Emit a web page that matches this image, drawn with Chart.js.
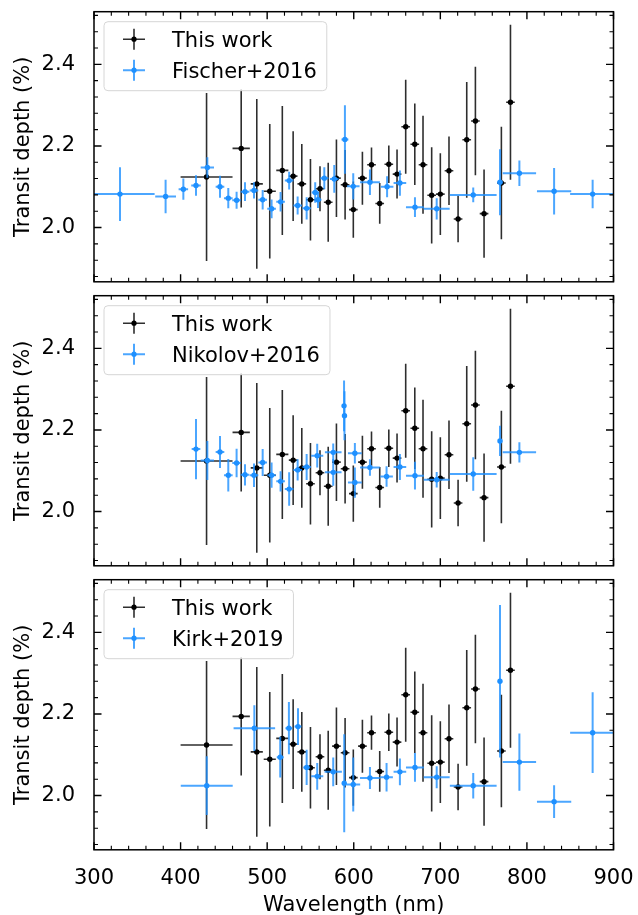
<!DOCTYPE html>
<html><head><meta charset="utf-8">
<script src="https://cdn.jsdelivr.net/npm/chart.js@4.4.1/dist/chart.umd.min.js"></script>
<style>
html,body{margin:0;padding:0;background:#fff;}
#wrap{position:relative;width:638px;height:915px;overflow:hidden;background:#fff;}
canvas{position:absolute;left:0;}
</style></head><body>
<div id="wrap">
<canvas id="c0" width="638" height="290" style="top:0px;width:638px;height:290px"></canvas>
<canvas id="c1" width="638" height="290" style="top:284px;width:638px;height:290px"></canvas>
<canvas id="c2" width="638" height="347" style="top:568px;width:638px;height:347px"></canvas>
</div>
<script>
// ---------- data ----------
const thisWorkLabel = 'This work';
const thisWorkWl = [430,470,488,503,517.5,530,540,550,561,570.5,580,590,599.5,610,620.5,630,640.5,650,660,670.5,680,690,700,710,720.5,730.5,740.5,750.5,770.5,781];
const thisWorkWlErr = [30,10,7,7,7,5,5,5,5,5,5,5,5,5,5,5,5,5,5,5,5,5,5,5,5,5,5,5,5,5];
const thisWorkDepth = [2.124,2.194,2.107,2.089,2.140,2.126,2.107,2.068,2.095,2.062,2.121,2.105,2.044,2.121,2.154,2.059,2.155,2.131,2.247,2.204,2.154,2.079,2.082,2.139,2.021,2.215,2.261,2.034,2.109,2.307];
const thisWorkDepthErr = [0.206,0.145,0.208,0.165,0.158,0.110,0.098,0.100,0.055,0.097,0.095,0.085,0.069,0.065,0.042,0.050,0.046,0.060,0.115,0.100,0.120,0.118,0.100,0.084,0.057,0.142,0.133,0.108,0.138,0.190];

const fischerLabel = 'Fischer+2016';
const fischerWl = [330,382.7,403.2,417.8,430.9,445.5,455.1,464.7,474.4,484.8,494.8,505.1,515.5,525.4,535.2,545.6,555.5,558.7,566,577.5,589.8,599.4,618.7,638.5,653.3,670.7,695.8,738,768.9,791.3,831.4,875.9];
const fischerWlErr = [40,12,5.5,5.5,7.7,5,5,5,5,5,5,5,5,5,5,5,4,4,4.8,5,4,7.3,11.5,7.3,7.3,10.4,15,27,3,19.3,19.8,26];
const fischerDepth = [2.082,2.076,2.094,2.103,2.147,2.100,2.072,2.067,2.088,2.091,2.068,2.046,2.063,2.115,2.054,2.047,2.086,2.068,2.121,2.119,2.216,2.101,2.111,2.100,2.109,2.050,2.046,2.080,2.111,2.133,2.089,2.082];
const fischerDepthErr = [0.066,0.041,0.026,0.025,0.025,0.027,0.025,0.021,0.023,0.020,0.024,0.023,0.024,0.022,0.022,0.027,0.025,0.020,0.027,0.034,0.084,0.032,0.031,0.026,0.031,0.024,0.026,0.018,0.081,0.031,0.057,0.035];

const nikolovLabel = 'Nikolov+2016';
const nikolovWl = [417.8,430.9,445.5,455.1,464.7,474.4,484.8,494.8,505.1,515.5,525.4,535.2,545.6,557.8,576.3,576.3,588.8,589.3,601.3,601.3,618.7,637.9,653.3,670.7,695.8,738,768.9,791.3];
const nikolovWlErr = [5,7.7,5,5,5,5,5,5,5,5,5,5,5,7,9.6,9.6,2,2,8,8,11.5,7.3,7.3,10.4,15,27,2,19.3];
const nikolovDepth = [2.153,2.125,2.146,2.089,2.119,2.090,2.089,2.120,2.089,2.074,2.055,2.102,2.109,2.137,2.145,2.096,2.259,2.235,2.143,2.071,2.108,2.086,2.109,2.088,2.078,2.092,2.173,2.145];
const nikolovDepthErr = [0.074,0.048,0.039,0.040,0.035,0.026,0.029,0.033,0.031,0.025,0.041,0.026,0.032,0.029,0.022,0.033,0.062,0.060,0.025,0.037,0.020,0.025,0.032,0.034,0.019,0.041,0.037,0.025];

const kirkLabel = 'Kirk+2019';
const kirkWl = [430.2,485.2,515.1,525.1,535.6,545.6,557.8,576.3,589,599.4,618.7,637.9,653.3,670.7,695.8,738,768.9,791.3,831.4,875.9];
const kirkWlErr = [30,24,4,4,4,4,7,10,2,8,11.5,7.3,7.3,10.4,15,27,2,19.3,19.8,26];
const kirkDepth = [2.024,2.165,2.094,2.165,2.169,2.069,2.047,2.058,2.030,2.027,2.043,2.045,2.058,2.069,2.045,2.024,2.280,2.082,1.985,2.154];
const kirkDepthErr = [0.072,0.056,0.050,0.064,0.045,0.043,0.033,0.035,0.120,0.066,0.027,0.035,0.033,0.035,0.027,0.031,0.187,0.070,0.040,0.099];

const xTickValues = [300,400,500,600,700,800,900];
const yTickValues = [2.0,2.2,2.4];
const xMinorStep = 20, yMinorStep = 0.04;
const xRange = [300, 900];
const yRange = [1.867, 2.529];
const xTitle = 'Wavelength (nm)';
const yTitle = 'Transit depth (%)';

// ---------- style ----------
const FONT = '"DejaVu Sans", "Liberation Sans", sans-serif';
const FS = 21;
const BLACK_ERR = 'rgba(0,0,0,0.82)';
const BLUE = '#1e90ff';
const BLUE_ERR = 'rgba(30,144,255,0.8)';

Chart.defaults.font.family = FONT;
Chart.defaults.font.size = FS;
Chart.defaults.color = '#000';

function pts(xs, ys) { return xs.map((x, i) => ({x: x, y: ys[i]})); }

const deco = {
  id: 'deco',
  beforeDatasetDraw(chart, args) {
    const ds = chart.data.datasets[args.index];
    const xs = chart.scales.x, ys = chart.scales.y, ca = chart.chartArea, ctx = chart.ctx;
    ctx.save();
    ctx.beginPath(); ctx.rect(ca.left, ca.top, ca.right - ca.left, ca.bottom - ca.top); ctx.clip();
    ctx.strokeStyle = ds.errColor; ctx.lineWidth = ds.errWidth; ctx.lineCap = 'butt';
    ds.data.forEach((p, i) => {
      const px = xs.getPixelForValue(p.x), py = ys.getPixelForValue(p.y);
      const x0 = xs.getPixelForValue(p.x - ds.xErr[i]), x1 = xs.getPixelForValue(p.x + ds.xErr[i]);
      const y0 = ys.getPixelForValue(p.y - ds.yErr[i]), y1 = ys.getPixelForValue(p.y + ds.yErr[i]);
      ctx.beginPath();
      ctx.moveTo(x0, py); ctx.lineTo(x1, py);
      ctx.moveTo(px, y0); ctx.lineTo(px, y1);
      ctx.stroke();
    });
    ctx.restore();
  },
  afterDraw(chart) {
    const ctx = chart.ctx, ca = chart.chartArea, xs = chart.scales.x, ys = chart.scales.y;
    const opt = chart.options.plugins.deco;
    ctx.save();
    // ticks (inward, all four sides)
    ctx.strokeStyle = '#000';
    const drawX = (v, len, lw) => {
      const p = xs.getPixelForValue(v);
      ctx.lineWidth = lw; ctx.beginPath();
      ctx.moveTo(p, ca.bottom); ctx.lineTo(p, ca.bottom - len);
      ctx.moveTo(p, ca.top); ctx.lineTo(p, ca.top + len);
      ctx.stroke();
    };
    const drawY = (v, len, lw) => {
      const p = ys.getPixelForValue(v);
      ctx.lineWidth = lw; ctx.beginPath();
      ctx.moveTo(ca.left, p); ctx.lineTo(ca.left + len, p);
      ctx.moveTo(ca.right, p); ctx.lineTo(ca.right - len, p);
      ctx.stroke();
    };
    for (let v = xRange[0]; v <= xRange[1] + 1e-9; v += xMinorStep) {
      if (!xTickValues.some(t => Math.abs(t - v) < 1e-6)) drawX(v, 4, 1.1);
    }
    xTickValues.forEach(v => drawX(v, 7.5, 1.4));
    for (let k = Math.ceil(yRange[0] / yMinorStep); k * yMinorStep <= yRange[1]; k++) {
      const v = k * yMinorStep;
      if (!yTickValues.some(t => Math.abs(t - v) < 1e-6)) drawY(v, 4, 1.1);
    }
    yTickValues.forEach(v => drawY(v, 7.5, 1.4));
    // frame
    ctx.lineWidth = 1.5;
    ctx.strokeRect(ca.left, ca.top, ca.right - ca.left, ca.bottom - ca.top);

    // legend
    const dss = chart.data.datasets;
    const order = [1, 0]; // "This work" first
    ctx.font = FS + 'px ' + FONT;
    let maxW = 0;
    order.forEach(i => { maxW = Math.max(maxW, ctx.measureText(dss[i].label).width); });
    const bx = ca.left + 10, by = ca.top + 10, bw = 68 + maxW + 10, bh = 69, r = 4;
    ctx.beginPath();
    ctx.moveTo(bx + r, by); ctx.lineTo(bx + bw - r, by); ctx.arcTo(bx + bw, by, bx + bw, by + r, r);
    ctx.lineTo(bx + bw, by + bh - r); ctx.arcTo(bx + bw, by + bh, bx + bw - r, by + bh, r);
    ctx.lineTo(bx + r, by + bh); ctx.arcTo(bx, by + bh, bx, by + bh - r, r);
    ctx.lineTo(bx, by + r); ctx.arcTo(bx, by, bx + r, by, r); ctx.closePath();
    ctx.fillStyle = 'rgba(255,255,255,0.8)'; ctx.fill();
    ctx.strokeStyle = '#d6d6d6'; ctx.lineWidth = 1; ctx.stroke();
    order.forEach((i, row) => {
      const ds = dss[i];
      const cy = by + 17.5 + row * 31, cx = bx + 30;
      ctx.strokeStyle = ds.errColor; ctx.lineWidth = ds.errWidth;
      ctx.beginPath(); ctx.moveTo(cx - 11, cy); ctx.lineTo(cx + 11, cy);
      ctx.moveTo(cx, cy - 10.5); ctx.lineTo(cx, cy + 10.5); ctx.stroke();
      ctx.fillStyle = ds.pointBackgroundColor;
      ctx.beginPath(); ctx.arc(cx, cy, 2.6, 0, Math.PI * 2); ctx.fill();
      ctx.fillStyle = '#000'; ctx.textAlign = 'left'; ctx.textBaseline = 'alphabetic';
      ctx.fillText(ds.label, bx + 68, cy + 0.3645 * FS);
    });

    // axis titles
    ctx.fillStyle = '#000'; ctx.font = FS + 'px ' + FONT;
    ctx.save();
    ctx.translate(29, (ca.top + ca.bottom) / 2);
    ctx.rotate(-Math.PI / 2);
    ctx.textAlign = 'center'; ctx.textBaseline = 'alphabetic';
    ctx.fillText(yTitle, 0, 0);
    ctx.restore();
    if (opt.showXTitle) {
      ctx.textAlign = 'center'; ctx.textBaseline = 'alphabetic';
      ctx.fillText(xTitle, (ca.left + ca.right) / 2, opt.xTitleBaseline);
    }
    ctx.restore();
  }
};

const panels = [
  {id: 'c0', label: fischerLabel, wl: fischerWl, wlErr: fischerWlErr, d: fischerDepth, dErr: fischerDepthErr, xAxisH: 8.2, last: false},
  {id: 'c1', label: nikolovLabel, wl: nikolovWl, wlErr: nikolovWlErr, d: nikolovDepth, dErr: nikolovDepthErr, xAxisH: 8.2, last: false},
  {id: 'c2', label: kirkLabel, wl: kirkWl, wlErr: kirkWlErr, d: kirkDepth, dErr: kirkDepthErr, xAxisH: 65.2, last: true}
];

panels.forEach(pn => {
  new Chart(document.getElementById(pn.id), {
    type: 'scatter',
    data: {
      datasets: [
        {label: pn.label, data: pts(pn.wl, pn.d), xErr: pn.wlErr, yErr: pn.dErr,
         errColor: BLUE_ERR, errWidth: 2, pointRadius: 2.7, pointBackgroundColor: BLUE,
         pointBorderWidth: 0, pointBorderColor: BLUE, order: 1},
        {label: thisWorkLabel, data: pts(thisWorkWl, thisWorkDepth), xErr: thisWorkWlErr, yErr: thisWorkDepthErr,
         errColor: BLACK_ERR, errWidth: 1.6, pointRadius: 2.7, pointBackgroundColor: '#000',
         pointBorderWidth: 0, pointBorderColor: '#000', order: 2}
      ]
    },
    options: {
      responsive: false, animation: false, devicePixelRatio: 1,
      layout: {padding: {top: 11.7, right: 24.5, left: 0, bottom: 0}},
      plugins: {legend: {display: false}, tooltip: {enabled: false},
                deco: {showXTitle: pn.last, xTitleBaseline: 342.5}},
      scales: {
        x: {type: 'linear', min: xRange[0], max: xRange[1],
            grid: {display: false}, border: {display: false},
            afterBuildTicks: s => { s.ticks = xTickValues.map(v => ({value: v})); },
            ticks: {display: pn.last, padding: 8, maxRotation: 0, autoSkip: false,
                    font: {size: FS}, color: '#000', callback: v => String(v)},
            afterFit: s => { s.height = pn.xAxisH; s.paddingLeft = 0; s.paddingRight = 0; s.paddingTop = 0; s.paddingBottom = 0; }},
        y: {type: 'linear', min: yRange[0], max: yRange[1],
            grid: {display: false}, border: {display: false},
            afterBuildTicks: s => { s.ticks = yTickValues.map(v => ({value: v})); },
            ticks: {padding: 11, font: {size: FS}, color: '#000', callback: v => Number(v).toFixed(1)},
            afterFit: s => { s.width = 94; s.paddingLeft = 0; s.paddingRight = 0; s.paddingTop = 0; s.paddingBottom = 0; }}
      }
    },
    plugins: [deco]
  });
});
</script>
</body></html>
